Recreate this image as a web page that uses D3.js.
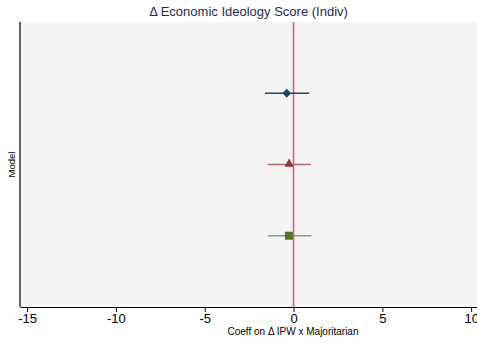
<!DOCTYPE html>
<html>
<head>
<meta charset="utf-8">
<script src="https://cdn.jsdelivr.net/npm/d3@7"></script>
<style>
  html, body { margin: 0; padding: 0; background: #fff; }
  svg { display: block; font-family: "Liberation Sans", Arial, Helvetica, sans-serif; }
</style>
</head>
<body>
<svg id="chart" width="477" height="345"></svg>
<script>
// Coefficient estimates with confidence intervals, one row per model
const models = [1, 2, 3];
const estimates = [-0.38, -0.25, -0.26];
const ciLow = [-1.61, -1.46, -1.43];
const ciHigh = [0.88, 0.97, 1.01];
const markerShapes = ["diamond", "triangle", "square"];
const markerColors = ["#1a476f", "#90353b", "#55752f"];
const ciColors = ["#1a476f", "#b5646b", "#8aa070"];
const xTicks = [-15, -10, -5, 0, 5, 10];

const svg = d3.select("#chart");
const W = 477, H = 345;
const m = { top: 22, right: 0, bottom: 38, left: 20 };
const iw = W - m.left - m.right, ih = H - m.top - m.bottom;

const x = d3.scaleLinear().domain([-15.4, 10.33]).range([m.left, W - m.right]);
const y = d3.scaleLinear().domain([0, 4]).range([m.top, m.top + ih]);

// plot region
svg.append("rect").attr("x", m.left).attr("y", m.top).attr("width", iw).attr("height", ih)
  .attr("fill", "#f4f4f4");

// reference line at zero
svg.append("line").attr("x1", x(0)).attr("x2", x(0)).attr("y1", m.top).attr("y2", m.top + ih)
  .attr("stroke", "#d6607f").attr("stroke-width", 1.6);

// confidence intervals
const g = svg.append("g");
models.forEach((d, i) => {
  g.append("line").attr("x1", x(ciLow[i])).attr("x2", x(ciHigh[i]))
    .attr("y1", y(d)).attr("y2", y(d))
    .attr("stroke", ciColors[i]).attr("stroke-width", 1.4);
});

// point estimates (marker shapes drawn around the point)
const markerPath = {
  diamond: "M0,-4.6L4.4,0L0,4.6L-4.4,0Z",
  triangle: "M0,-5L4.6,3.2L-4.6,3.2Z",
  square: "M-4,-4L4,-4L4,4L-4,4Z"
};
models.forEach((d, i) => {
  const s = markerShapes[i];
  g.append("path")
    .attr("d", markerPath[s])
    .attr("transform", `translate(${x(estimates[i])},${y(d) + (s === "triangle" ? -1 : 0)})`)
    .attr("fill", markerColors[i]);
});

// x axis
const xAxis = svg.append("g").attr("transform", `translate(0,${m.top + ih})`)
  .call(d3.axisBottom(x).tickValues(xTicks).tickSize(5).tickSizeOuter(0).tickFormat(d3.format("d")));
xAxis.select(".domain").attr("stroke", "#000").attr("stroke-width", 1.2);
xAxis.selectAll(".tick line").attr("stroke", "#000");
xAxis.selectAll(".tick text").attr("font-size", 13).attr("fill", "#000").attr("dy", "0.95em").attr("y", 4)
  .text(d => d < 0 ? "-" + Math.abs(d) : d);

// y axis line
svg.append("line").attr("x1", m.left).attr("x2", m.left).attr("y1", m.top).attr("y2", m.top + ih)
  .attr("stroke", "#000").attr("stroke-width", 1.2);

// titles
svg.append("text").attr("x", (m.left + W) / 2).attr("y", 16).attr("text-anchor", "middle")
  .attr("font-size", 13).attr("fill", "#1e2d53").text("Δ Economic Ideology Score (Indiv)");
svg.append("text").attr("x", 293).attr("y", 335).attr("text-anchor", "middle")
  .attr("font-size", 10).attr("fill", "#000").text("Coeff on Δ IPW x Majoritarian");
svg.append("text").attr("transform", `translate(15,${m.top + ih / 2}) rotate(-90)`)
  .attr("text-anchor", "middle").attr("font-size", 9.5).attr("fill", "#000").text("Model");
</script>
</body>
</html>
